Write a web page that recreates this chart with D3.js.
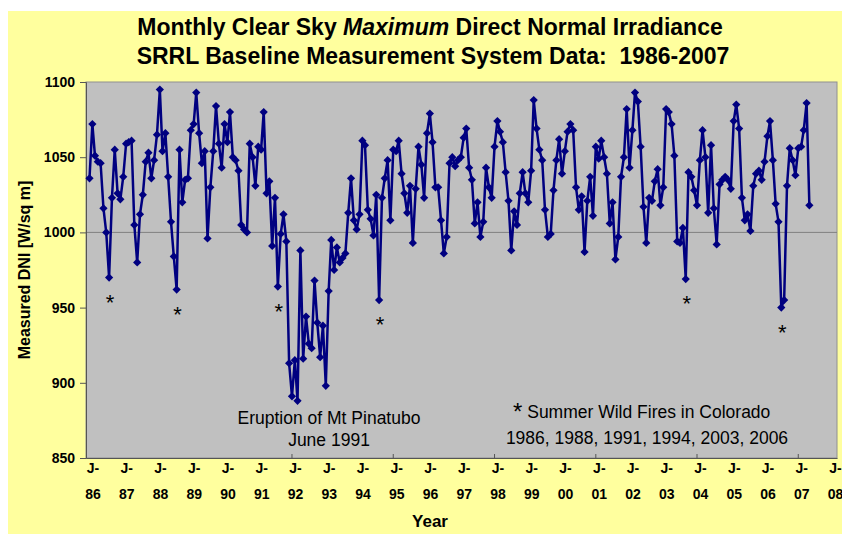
<!DOCTYPE html>
<html>
<head>
<meta charset="utf-8">
<script src="https://cdn.jsdelivr.net/npm/d3@7"></script>
<style>
  html, body { margin: 0; padding: 0; background: #ffffff; }
  svg { display: block; font-family: 'Liberation Sans', Arial, sans-serif; }
  text { white-space: pre; }
</style>
</head>
<body>
<div id="chart"></div>
<script>
// monthly clear sky maximum DNI, first month is Jan 1986, one row per year
const firstMonth = new Date(1986, 0, 1);
const dniValues = [
  1036, 1072, 1051, 1047, 1046, 1016, 1000, 970, 1023, 1055, 1026, 1022, // 1986
  1037, 1059, 1060, 1061, 1005, 980, 1012, 1025, 1047, 1053, 1036, 1048, // 1987
  1065, 1095, 1054, 1066, 1037, 1007, 984, 962, 1055, 1020, 1035, 1036, // 1988
  1068, 1072, 1093, 1066, 1046, 1054, 996, 1030, 1054, 1084, 1059, 1043, // 1989
  1072, 1060, 1080, 1050, 1048, 1041, 1005, 1002, 1000, 1059, 1050, 1031, // 1990
  1057, 1055, 1080, 1026, 1034, 991, 1023, 964, 999, 1012, 994, 913, // 1991
  891, 915, 888, 988, 916, 944, 926, 923, 968, 940, 917, 938, // 1992
  898, 961, 995, 975, 990, 980, 983, 986, 1013, 1036, 1008, 1002, // 1993
  1012, 1061, 1058, 1015, 1009, 998, 1025, 955, 1023, 1036, 1048, 1008, // 1994
  1055, 1054, 1061, 1039, 1026, 1013, 1031, 993, 1029, 1057, 1045, 1023, // 1995
  1066, 1079, 1060, 1030, 1030, 1008, 986, 997, 1046, 1050, 1044, 1048, // 1996
  1050, 1063, 1069, 1043, 1035, 1006, 1020, 997, 1007, 1043, 1030, 1023, // 1997
  1057, 1074, 1067, 1060, 1040, 1021, 988, 1014, 1005, 1026, 1040, 1026, // 1998
  1020, 1041, 1088, 1069, 1055, 1048, 1015, 997, 999, 1028, 1048, 1062, // 1999
  1039, 1054, 1067, 1072, 1068, 1030, 1015, 1024, 987, 1021, 1037, 1011, // 2000
  1057, 1049, 1061, 1050, 1039, 1006, 1020, 982, 997, 1037, 1050, 1082, // 2001
  1043, 1068, 1093, 1087, 1057, 1017, 993, 1023, 1021, 1034, 1042, 1018, // 2002
  1030, 1082, 1080, 1072, 1051, 994, 993, 1003, 969, 1040, 1037, 1028, // 2003
  1018, 1048, 1068, 1050, 1013, 1058, 1016, 992, 1032, 1035, 1037, 1035, // 2004
  1029, 1074, 1085, 1069, 1023, 1008, 1012, 1001, 1031, 1039, 1041, 1035, // 2005
  1047, 1064, 1074, 1048, 1019, 1007, 950, 955, 1031, 1056, 1048, 1038, // 2006
  1056, 1057, 1068, 1086, 1018 // 2007
];

// months (index into dniValues) marked with a star for summer wild fires
const fireMonths = [7, 31, 67, 103, 212, 246];

const yTicks = [850, 900, 950, 1000, 1050, 1100];
const xTickYears = d3.range(1986, 2009);
const xMinorYears = [1992, 1995, 1998, 2001, 2004, 2007];

const titleLines = ['Monthly Clear Sky ', 'Maximum', ' Direct Normal Irradiance'];
const subTitle = 'SRRL Baseline Measurement System Data:  1986-2007';
const fireYearsLabel = '1986, 1988, 1991, 1994, 2003, 2006';

const width = 842;
const height = 534;
const plot = { left: 86, right: 837, top: 82, bottom: 458 };

const data = dniValues.map((v, i) => ({ date: d3.timeMonth.offset(firstMonth, i), value: v }));

const x = d3.scaleTime()
  .domain([new Date(1985, 10, 24), new Date(2008, 1, 24)])
  .range([plot.left, plot.right]);

const y = d3.scaleLinear()
  .domain([850, 1100])
  .range([plot.bottom, plot.top]);

const svg = d3.select('#chart')
  .append('svg')
  .attr('width', width)
  .attr('height', height);

// chart area background
svg.append('rect')
  .attr('x', 8)
  .attr('y', 11)
  .attr('width', width - 8)
  .attr('height', height - 11)
  .attr('fill', '#ffff9e');

// plot area
svg.append('rect')
  .attr('x', plot.left)
  .attr('y', plot.top)
  .attr('width', plot.right - plot.left)
  .attr('height', plot.bottom - plot.top)
  .attr('fill', '#c0c0c0')
  .attr('stroke', '#909090')
  .attr('stroke-width', 1);

// the 1000 reference line
svg.append('line')
  .attr('x1', plot.left)
  .attr('x2', plot.right)
  .attr('y1', y(1000))
  .attr('y2', y(1000))
  .attr('stroke', '#808080')
  .attr('stroke-width', 1);

// title
const title = svg.append('text')
  .attr('x', 430)
  .attr('y', 35)
  .attr('text-anchor', 'middle')
  .attr('font-size', '23px')
  .attr('font-weight', 'bold')
  .attr('fill', '#000');
title.append('tspan').text(titleLines[0]);
title.append('tspan').attr('font-style', 'italic').text(titleLines[1]);
title.append('tspan').text(titleLines[2]);

svg.append('text')
  .attr('x', 433)
  .attr('y', 64)
  .attr('text-anchor', 'middle')
  .attr('font-size', '23px')
  .attr('font-weight', 'bold')
  .text(subTitle);

// y axis
const yAxis = svg.append('g')
  .attr('transform', `translate(${plot.left}, 0)`)
  .call(d3.axisLeft(y)
    .tickValues(yTicks)
    .tickFormat(d3.format('d'))
    .tickSize(6)
    .tickPadding(5));
yAxis.select('.domain').attr('stroke', '#555');
yAxis.selectAll('.tick line').attr('stroke', '#555');
yAxis.selectAll('.tick text')
  .attr('font-size', '14px')
  .attr('font-weight', 'bold')
  .attr('font-family', "'Liberation Sans', Arial, sans-serif")
  .attr('fill', '#000');

svg.append('text')
  .attr('transform', `translate(30, ${(plot.top + plot.bottom) / 2}) rotate(-90)`)
  .attr('text-anchor', 'middle')
  .attr('font-size', '16px')
  .attr('font-weight', 'bold')
  .text('Measured DNI [W/sq m]');

// x axis
const xAxis = svg.append('g')
  .attr('transform', `translate(0, ${plot.bottom})`)
  .call(d3.axisBottom(x)
    .tickValues(xTickYears.map(yr => new Date(yr, 0, 1)))
    .tickSize(0)
    .tickPadding(5)
    .tickFormat(d3.timeFormat('%y')));
xAxis.select('.domain').attr('stroke', '#555');
xAxis.selectAll('.tick text')
  .attr('font-size', '14px')
  .attr('font-weight', 'bold')
  .attr('font-family', "'Liberation Sans', Arial, sans-serif")
  .attr('fill', '#000')
  .each(function () {
    const t = d3.select(this);
    const yr = t.text();
    t.text(null);
    t.append('tspan').attr('x', 3).attr('dy', '0.71em').text('J-');
    t.append('tspan').attr('x', 3).attr('dy', '1.85em').text(yr);
  });

svg.append('g')
  .selectAll('line')
  .data(xMinorYears)
  .enter()
  .append('line')
  .attr('x1', d => x(new Date(d, 0, 1)))
  .attr('x2', d => x(new Date(d, 0, 1)))
  .attr('y1', plot.bottom)
  .attr('y2', plot.bottom - 4)
  .attr('stroke', '#555');

svg.append('text')
  .attr('x', 430)
  .attr('y', 527)
  .attr('text-anchor', 'middle')
  .attr('font-size', '17px')
  .attr('font-weight', 'bold')
  .text('Year');

// series
svg.append('path')
  .datum(data)
  .attr('fill', 'none')
  .attr('stroke', '#000080')
  .attr('stroke-width', 2.5)
  .attr('stroke-linejoin', 'round')
  .attr('d', d3.line()
    .x(d => x(d.date))
    .y(d => y(d.value)));

svg.append('g')
  .selectAll('path')
  .data(data)
  .enter()
  .append('path')
  .attr('transform', d => `translate(${x(d.date)}, ${y(d.value)}) rotate(45)`)
  .attr('d', d3.symbol(d3.symbolSquare).size(34))
  .attr('fill', '#000080');

// fire markers under the summer lows
svg.append('g')
  .selectAll('text')
  .data(fireMonths)
  .enter()
  .append('text')
  .attr('x', i => x(data[i].date) + 1)
  .attr('y', i => y(data[i].value) + 32)
  .attr('text-anchor', 'middle')
  .attr('font-size', '22px')
  .attr('fill', '#000')
  .text('*');

// annotations
svg.append('text')
  .attr('x', 329)
  .attr('y', 424)
  .attr('text-anchor', 'middle')
  .attr('font-size', '17.5px')
  .text('Eruption of Mt Pinatubo');
svg.append('text')
  .attr('x', 329)
  .attr('y', 446)
  .attr('text-anchor', 'middle')
  .attr('font-size', '17.5px')
  .text('June 1991');

const fireNote = svg.append('text')
  .attr('x', 513)
  .attr('y', 418)
  .attr('font-size', '17.5px');
fireNote.append('tspan').attr('font-size', '24px').attr('dy', 2).text('*');
fireNote.append('tspan').attr('dy', -2).text(' Summer Wild Fires in Colorado');

svg.append('text')
  .attr('x', 647)
  .attr('y', 444)
  .attr('text-anchor', 'middle')
  .attr('font-size', '17.5px')
  .text(fireYearsLabel);
</script>
</body>
</html>
